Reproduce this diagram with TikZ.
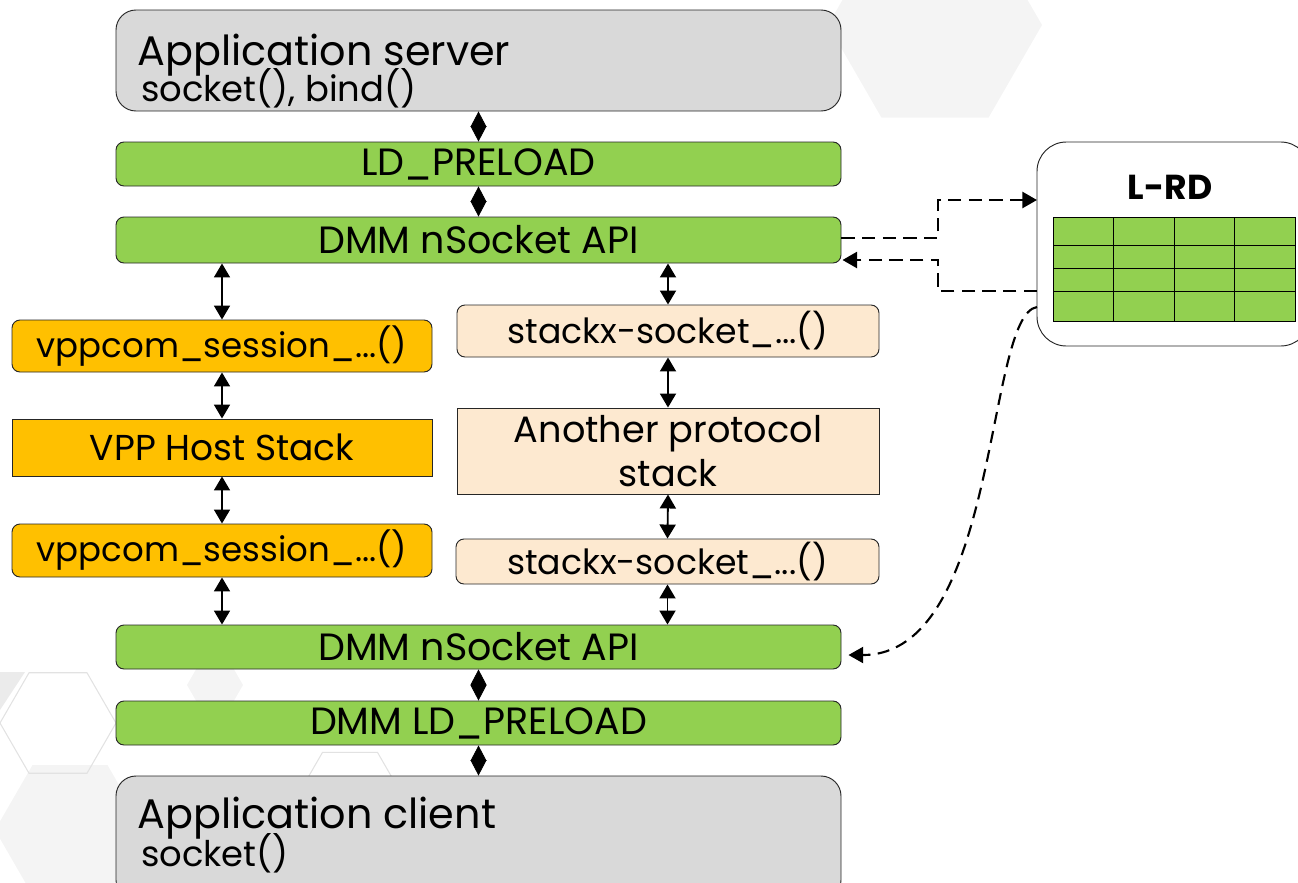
\documentclass[tikz,border=0pt]{standalone}
\usepackage{fontspec}
\setmainfont{Poppins}
\usetikzlibrary{arrows.meta,calc}
\definecolor{grn}{HTML}{92D050}
\definecolor{org}{HTML}{FFC000}
\definecolor{pch}{HTML}{FDE9D0}
\definecolor{gry}{HTML}{D9D9D9}
\definecolor{hexf}{HTML}{F4F4F4}
\definecolor{hexl}{HTML}{E2E2E2}
\tikzset{
  base box/.style={draw=black!85, line width=0.7pt, inner sep=0pt, font=\fontsize{26}{30}\selectfont},
  greenbox/.style={base box, fill=grn, rounded corners=6pt, minimum width=543.75pt, font=\fontsize{28.5}{32}\selectfont},
  orangebox/.style={base box, fill=org},
  peachbox/.style={base box, fill=pch},
  graybox/.style={base box, fill=gry, rounded corners=15pt, minimum width=543.75pt},
  bigtxt/.style={inner sep=0pt, anchor=base west, font=\fontsize{31}{36}\selectfont},
  smalltxt/.style={inner sep=0pt, anchor=base west, font=\fontsize{26.5}{30}\selectfont},
  dia/.style={line width=0.6pt, {Triangle[length=11.6pt,width=12pt]}-{Triangle[length=11.6pt,width=12pt]}},
  dbl/.style={line width=1.4pt, {Triangle[length=10.5pt,width=12pt]}-{Triangle[length=10.5pt,width=12pt]}},
  dsh/.style={line width=2pt, dash pattern=on 10pt off 5.5pt, -{Triangle[length=11pt,width=12pt]}},
  dshc/.style={line width=1.6pt, dash pattern=on 9pt off 5.5pt, -{Triangle[length=11pt,width=12pt]}},
  hexbg/.style={fill=hexf, draw=none},
  hexline/.style={draw=hexl, line width=0.8pt},
}
\begin{document}
\begin{tikzpicture}[x=0.75pt,y=-0.75pt]
\useasboundingbox (0,0) rectangle (1298,882);
% background hexagons
\fill[hexbg] (935,25) +(0:107) -- +(60:107) -- +(120:107) -- +(180:107) -- +(240:107) -- +(300:107) -- cycle;
\fill[hexbg] (70,830) +(0:75) -- +(60:75) -- +(120:75) -- +(180:75) -- +(240:75) -- +(300:75) -- cycle;
\fill[hexbg] (215,685) +(0:28) -- +(60:28) -- +(120:28) -- +(180:28) -- +(240:28) -- +(300:28) -- cycle;
\draw[hexline] (58,723) +(0:58) -- +(60:58) -- +(120:58) -- +(180:58) -- +(240:58) -- +(300:58) -- cycle;
\draw[hexline] (350,800) +(0:55) -- +(60:55) -- +(120:55) -- +(180:55) -- +(240:55) -- +(300:55) -- cycle;
\fill[hexl!70] (0,672) -- (25,672) -- (0,710) -- cycle;

% main boxes
\node[graybox, minimum height=75.75pt] (srv) at (478.5,60.5) {};
\node[bigtxt] (srvt) at (137,65) {Application server};
\node[smalltxt] (srvs) at (141,101) {socket(), bind()};

\node[greenbox, minimum height=33pt] (ldp) at (478.5,164) {LD\_PRELOAD};
\node[greenbox, minimum height=34.5pt] (api1) at (478.5,240) {DMM nSocket API};

\node[orangebox, rounded corners=6pt, minimum width=315pt, minimum height=39pt, font=\fontsize{25.5}{30}\selectfont] (vpp1) at (222,346) {vppcom\_session\_...()};
\node[peachbox, rounded corners=6pt, minimum width=316.5pt, minimum height=39pt] (sx1) at (668,331) {stackx-socket\_...()};
\node[orangebox, minimum width=315pt, minimum height=42.75pt, font=\fontsize{27}{30}\selectfont] (vhs) at (222,447.5) {VPP Host Stack};
\node[peachbox, minimum width=316.5pt, minimum height=64.5pt, align=center, font=\fontsize{27.5}{33}\selectfont] (aps) at (668,451) {Another protocol\\stack};
\node[orangebox, rounded corners=6pt, minimum width=315pt, minimum height=39.75pt, font=\fontsize{25.5}{30}\selectfont] (vpp2) at (222,550.5) {vppcom\_session\_...()};
\node[peachbox, rounded corners=6pt, minimum width=317.25pt, minimum height=33.75pt] (sx2) at (667.5,561.5) {stackx-socket\_...()};

\node[greenbox, minimum height=33pt] (api2) at (478.5,647) {DMM nSocket API};
\node[greenbox, minimum height=33pt] (dld) at (478.5,723) {DMM LD\_PRELOAD};

\node[graybox, minimum height=93pt] (cli) at (478.5,838) {};
\node[bigtxt] (clit) at (137,828) {Application client};
\node[smalltxt] (clis) at (141,866) {socket()};

% L-RD
\node[base box, fill=white, rounded corners=22pt, minimum width=204.75pt, minimum height=153pt] (lrd) at (1173.5,244) {};
\node[inner sep=0pt, font=\fontsize{26}{30}\selectfont\bfseries] (lrdt) at (1170,187) {L-RD};
\fill[grn] (1053,217) rectangle (1295,321);
\draw[line width=0.7pt] (1053,217) rectangle (1295,321);
\foreach \yy in {245,268,291} \draw[line width=0.7pt] (1053,\yy) -- (1295,\yy);
\foreach \xx in {1113,1174,1234} \draw[line width=0.7pt] (\xx,217) -- (\xx,321);
\coordinate (tout) at (1037,291);
\coordinate (tin) at (1037,200);
\coordinate (tcur) at (1037,307);

% diamond connectors
\draw[dia] (srv.south) -- (ldp.north);
\draw[dia] (ldp.south) -- (api1.north);
\draw[dia] (api2.south) -- (dld.north);
\draw[dia] (dld.south) -- (cli.north);

% double arrows left
\draw[dbl] (api1.south -| vpp1.north) -- (vpp1.north);
\draw[dbl] (vpp1.south) -- (vhs.north);
\draw[dbl] (vhs.south) -- (vpp2.north);
\draw[dbl] (vpp2.south) -- (api2.north -| vpp2.south);
% double arrows right
\draw[dbl] (api1.south -| sx1.north) -- (sx1.north);
\draw[dbl] (sx1.south) -- (aps.north);
\draw[dbl] (aps.south) -- (sx2.north);
\draw[dbl] (sx2.south) -- (api2.north -| sx2.south);

% dashed connectors
\draw[dsh] ($(api1.east)+(0,-2)$) -| (938,200) -- (tin);
\draw[dsh] (tout) -- (938,291) |- ($(api1.east)+(1,20)$);
\draw[dshc] (tcur) .. controls (985,315) and (1000,655) .. ($(api2.east)+(7,8)$);
\end{tikzpicture}
\end{document}
